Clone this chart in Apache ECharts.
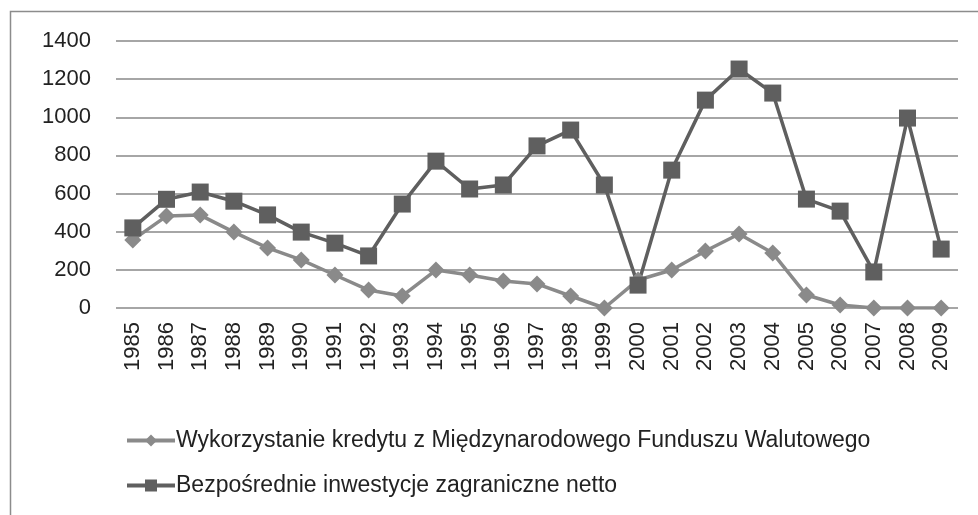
<!DOCTYPE html>
<html>
<head>
<meta charset="utf-8">
<script src="https://cdn.jsdelivr.net/npm/echarts@6/dist/echarts.min.js"></script>
<style>
  html, body { margin: 0; padding: 0; background: #fff; }
  #chart { width: 978px; height: 515px; }
</style>
</head>
<body>
<div id="chart"></div>
<script>
// lata
const years = ["1985", "1986", "1987", "1988", "1989", "1990", "1991", "1992", "1993", "1994",
  "1995", "1996", "1997", "1998", "1999", "2000", "2001", "2002", "2003", "2004",
  "2005", "2006", "2007", "2008", "2009"];

// Wykorzystanie kredytu z MFW
const kredytMFW = [357, 482, 487, 398, 315, 252, 173, 94, 63, 199,
  173, 142, 126, 63, 0, 147, 199, 299, 388, 288,
  68, 16, 0, 0, 0];

// Bezpośrednie inwestycje zagraniczne netto
const inwestycje = [420, 570, 608, 560, 488, 398, 340, 273, 545, 770,
  624, 645, 850, 933, 645, 120, 723, 1090, 1253, 1127,
  571, 508, 189, 996, 309];

const yTicks = [0, 200, 400, 600, 800, 1000, 1200, 1400];

const FONT = "Liberation Sans";

const chart = echarts.init(document.getElementById("chart"), null, { renderer: "canvas" });

const option = {
  animation: false,
  backgroundColor: "#fff",
  graphic: [
    {
      type: "rect",
      shape: { x: 10.5, y: 11.5, width: 1000, height: 600 },
      style: { fill: "none", stroke: "#8c8c8c", lineWidth: 1.5 },
      silent: true
    }
  ],
  grid: { left: 116, right: 20, top: 41, bottom: 207 },
  legend: {
    orient: "vertical",
    left: 120,
    top: 424,
    itemGap: 22,
    itemWidth: 48,
    itemHeight: 15,
    lineStyle: { width: 4 },
    textStyle: { fontFamily: FONT, fontSize: 23, color: "#222", padding: [0, 0, 0, -4] },
    data: [
      "Wykorzystanie kredytu z Międzynarodowego Funduszu Walutowego",
      "Bezpośrednie inwestycje zagraniczne netto"
    ]
  },
  xAxis: {
    type: "category",
    data: years,
    boundaryGap: true,
    axisLine: { show: false },
    axisTick: { show: false },
    axisLabel: {
      rotate: 90,
      margin: 14,
      fontFamily: FONT,
      fontSize: 22,
      color: "#222",
      interval: 0
    }
  },
  yAxis: {
    type: "value",
    min: yTicks[0],
    max: yTicks[yTicks.length - 1],
    interval: 200,
    axisLine: { show: false },
    axisTick: { show: false },
    axisLabel: {
      margin: 25,
      fontFamily: FONT,
      fontSize: 22,
      color: "#222",
      formatter: (v) => String(v)
    },
    splitLine: { lineStyle: { color: "#a6a6a6", width: 2 } }
  },
  series: [
    {
      name: "Wykorzystanie kredytu z Międzynarodowego Funduszu Walutowego",
      type: "line",
      data: kredytMFW,
      symbol: "diamond",
      symbolSize: 17,
      color: "#8a8a8a",
      lineStyle: { width: 3.5, color: "#8a8a8a" },
      itemStyle: { color: "#8a8a8a" }
    },
    {
      name: "Bezpośrednie inwestycje zagraniczne netto",
      type: "line",
      data: inwestycje,
      symbol: "rect",
      symbolSize: 17,
      color: "#5f5f5f",
      lineStyle: { width: 3.5, color: "#5f5f5f" },
      itemStyle: { color: "#5f5f5f" }
    }
  ]
};

chart.setOption(option);
</script>
</body>
</html>
